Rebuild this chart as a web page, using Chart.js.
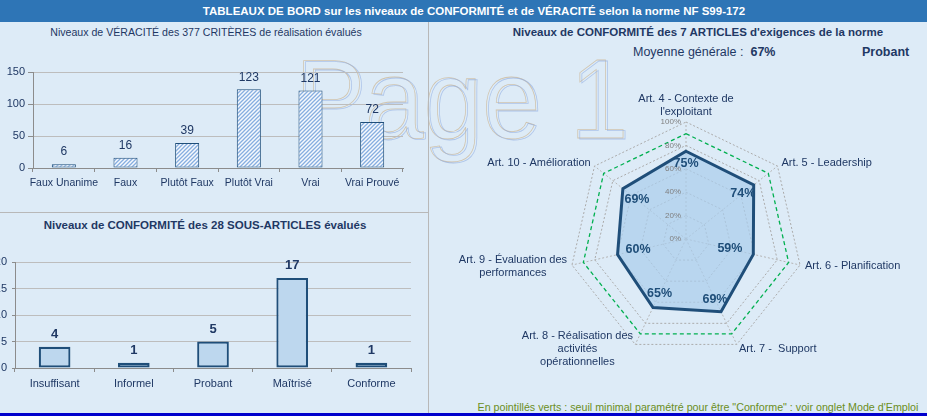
<!DOCTYPE html>
<html>
<head>
<meta charset="utf-8">
<script src="https://cdn.jsdelivr.net/npm/chart.js@4/dist/chart.umd.min.js"></script>
<style>
body { margin: 0; width: 927px; height: 416px; overflow: hidden; position: relative;
       background: #DDEBF7; font-family: "Liberation Sans", Arial, sans-serif; color: #1F3864; }
.abs { position: absolute; white-space: nowrap; }
.c { text-align: center; }
#topbar { left: 0; top: 0; width: 927px; height: 22px; background: #2E75B6; color: #fff;
          font-weight: bold; font-size: 11.5px; line-height: 22px; }
#topbar span { position: absolute; left: 74px; width: 800px; text-align: center; }
.wm { font-size: 113px; line-height: 113px; color: transparent; transform: scaleX(0.93); transform-origin: 0 0; }
canvas { position: absolute; }
</style>
</head>
<body>
<div class="abs" id="topbar"><span>TABLEAUX DE BORD sur les niveaux de CONFORMITÉ et de VÉRACITÉ selon la norme NF S99-172</span></div>

<div class="abs wm" style="left:295px;top:43px;-webkit-text-stroke:0.8px rgba(200,170,125,0.6);">Page 1</div>
<div class="abs wm" style="left:297px;top:44px;-webkit-text-stroke:0.8px rgba(140,170,225,0.6);">Page 1</div>

<div class="abs" style="left:428px;top:22px;width:1px;height:391px;background:#B8B8B8;"></div>
<div class="abs" style="left:0;top:212px;width:428px;height:1px;background:#B8B8B8;"></div>
<div class="abs" style="left:0;top:413px;width:927px;height:3px;background:#0000CC;"></div>

<div class="abs c" style="left:6px;top:26px;width:400px;font-size:10.6px;">Niveaux de VÉRACITÉ des 377 CRITÈRES de réalisation évalués</div>
<div class="abs c" style="left:5px;top:219px;width:400px;font-size:11.5px;font-weight:bold;">Niveaux de CONFORMITÉ des 28 SOUS-ARTICLES évalués</div>
<div class="abs c" style="left:498px;top:26px;width:400px;font-size:11.5px;font-weight:bold;">Niveaux de CONFORMITÉ des 7 ARTICLES d'exigences de la norme</div>
<div class="abs" style="left:633px;top:45px;font-size:12.5px;">Moyenne générale :&nbsp; <b>67%</b></div>
<div class="abs" style="left:862px;top:45px;font-size:12.5px;font-weight:bold;">Probant</div>
<div class="abs c" style="left:448px;top:401px;width:500px;font-size:10.7px;color:#6B8E23;">En pointillés verts : seuil minimal paramétré pour être "Conforme" : voir onglet Mode d'Emploi</div>

<canvas id="c1" style="left:0;top:23px;" width="428" height="189"></canvas>
<canvas id="c2" style="left:-40px;top:213px;" width="468" height="200"></canvas>
<canvas id="c3" style="left:430px;top:23px;" width="497" height="380"></canvas>

<script>
// Véracité des critères
var veraciteLabels = ['Faux Unanime', 'Faux', 'Plutôt Faux', 'Plutôt Vrai', 'Vrai', 'Vrai Prouvé'];
var veraciteValues = [6, 16, 39, 123, 121, 72];
var veraciteMax = 150;

// Conformité des sous-articles
var sousArticleLabels = ['Insuffisant', 'Informel', 'Probant', 'Maîtrisé', 'Conforme'];
var sousArticleValues = [4, 1, 5, 17, 1];
var sousArticleMax = 20;

// Conformité des articles (%)
var articleLabels = [
    ['Art. 4 - Contexte de', "l'exploitant"],
    ['Art. 5 - Leadership'],
    ['Art. 6 - Planification'],
    ['Art. 7 -  Support'],
    ['Art. 8 - Réalisation des', 'activités', 'opérationnelles'],
    ['Art. 9 - Évaluation des', 'performances'],
    ['Art. 10 - Amélioration']
];
var articleValues = [75, 74, 59, 69, 65, 60, 69];
var seuilValues = [90, 90, 90, 90, 90, 90, 90];

var navy = '#1F3864';
var fontFamily = '"Liberation Sans", Arial, sans-serif';

function hatch() {
    var p = document.createElement('canvas');
    p.width = 4; p.height = 4;
    var g = p.getContext('2d');
    g.fillStyle = '#F6F9FD';
    g.fillRect(0, 0, 4, 4);
    g.strokeStyle = '#86AEE0';
    g.lineWidth = 1.3;
    g.beginPath();
    g.moveTo(-1, 5); g.lineTo(5, -1);
    g.moveTo(-1, 1); g.lineTo(1, -1);
    g.moveTo(3, 5); g.lineTo(5, 3);
    g.stroke();
    return g.createPattern(p, 'repeat');
}

function barValues(font, gap) {
    return {
        id: 'barValues',
        afterDatasetsDraw: function(chart) {
            var ctx = chart.ctx;
            var values = chart.data.datasets[0].data;
            ctx.save();
            ctx.font = font;
            ctx.fillStyle = navy;
            ctx.textAlign = 'center';
            ctx.textBaseline = 'middle';
            chart.getDatasetMeta(0).data.forEach(function(bar, i) {
                ctx.fillText(values[i], bar.x, bar.y - gap);
            });
            ctx.restore();
        }
    };
}

function barChart(id, labels, values, max, step, o) {
    return new Chart(document.getElementById(id), {
        type: 'bar',
        data: {
            labels: labels,
            datasets: [{
                data: values,
                backgroundColor: o.fill,
                borderColor: '#1F4E79',
                borderWidth: o.border,
                borderSkipped: false,
                barPercentage: o.barPct,
                categoryPercentage: 1
            }]
        },
        options: {
            responsive: false,
            animation: false,
            layout: { padding: { top: o.top, right: o.right, left: 0, bottom: 0 } },
            plugins: { legend: { display: false }, tooltip: { enabled: false } },
            scales: {
                x: {
                    afterFit: function(s) { s.height = o.xh; },
                    grid: { drawOnChartArea: false, tickLength: 4, color: '#8C8C8C' },
                    border: { color: '#8C8C8C' },
                    ticks: { color: navy, padding: 5, maxRotation: 0, minRotation: 0, autoSkip: false,
                             font: { size: o.xfont, family: fontFamily } }
                },
                y: {
                    min: 0, max: max,
                    afterFit: function(s) { s.width = o.yw; },
                    grid: { color: '#BDBDBD', tickLength: o.tick, tickColor: '#8C8C8C' },
                    border: { color: '#8C8C8C' },
                    ticks: { stepSize: step, color: navy, padding: o.ypad, font: { size: 11, family: fontFamily } }
                }
            }
        },
        plugins: [barValues(o.vfont, o.gap)]
    });
}

barChart('c1', veraciteLabels, veraciteValues, veraciteMax, 50, {
    fill: hatch(), border: 1, barPct: 0.39, top: 49, right: 25, xh: 44, yw: 33,
    tick: 5, ypad: 3, xfont: 10.5, vfont: '12px ' + fontFamily, gap: 12
});

barChart('c2', sousArticleLabels, sousArticleValues, sousArticleMax, 5, {
    fill: '#BDD7EE', border: 2.2, barPct: 0.4, top: 49, right: 17, xh: 45, yw: 55,
    tick: 3, ypad: 5, xfont: 11, vfont: 'bold 13px ' + fontFamily, gap: 12.5
});

// offsets (px) pulling each value label toward the centre
var valueLabelInset = [12, 14, 24, 14, 15, 21, 18];

var radarText = {
    id: 'radarText',
    afterDatasetsDraw: function(chart) {
        var s = chart.scales.r, ctx = chart.ctx;
        ctx.save();
        // tick labels
        ctx.font = '8px ' + fontFamily;
        ctx.fillStyle = '#7F7F7F';
        ctx.textAlign = 'right';
        ctx.textBaseline = 'middle';
        s.ticks.forEach(function(t) {
            ctx.fillText(t.value + '%', s.xCenter - 5, s.yCenter - s.getDistanceFromCenterForValue(t.value));
        });
        // axis labels
        ctx.font = '11px ' + fontFamily;
        ctx.fillStyle = navy;
        ctx.textAlign = 'center';
        var lh = 13;
        chart.data.labels.forEach(function(lines, i) {
            var p = s.getPointPosition(i, s.drawingArea + 5);
            var w = 0;
            lines.forEach(function(l) { w = Math.max(w, ctx.measureText(l).width); });
            var cx, cy;
            if (Math.abs(p.x - s.xCenter) < 2) {
                cx = p.x; cy = p.y + 1 - lines.length * lh / 2;
            } else if (p.x > s.xCenter) {
                cx = p.x + w / 2; cy = p.y;
            } else {
                cx = p.x - w / 2; cy = p.y;
            }
            lines.forEach(function(l, k) {
                ctx.fillText(l, cx, cy + (k - (lines.length - 1) / 2) * lh);
            });
        });
        // value labels
        ctx.font = 'bold 12.5px ' + fontFamily;
        ctx.fillStyle = '#1F4E79';
        var values = chart.data.datasets[0].data;
        chart.getDatasetMeta(0).data.forEach(function(pt, i) {
            var dx = pt.x - s.xCenter, dy = pt.y - s.yCenter;
            var d = Math.sqrt(dx * dx + dy * dy);
            ctx.fillText(values[i] + '%', pt.x - dx / d * valueLabelInset[i], pt.y - dy / d * valueLabelInset[i]);
        });
        ctx.restore();
    }
};

new Chart(document.getElementById('c3'), {
    type: 'radar',
    data: {
        labels: articleLabels,
        datasets: [{
            data: articleValues,
            backgroundColor: 'rgba(170,205,235,0.72)',
            borderColor: '#1F4E79',
            borderWidth: 3,
            pointRadius: 0,
            fill: true
        }, {
            data: seuilValues,
            borderColor: '#00B050',
            borderWidth: 1.3,
            borderDash: [4, 3],
            pointRadius: 0,
            fill: false
        }]
    },
    options: {
        responsive: false,
        animation: false,
        layout: { padding: { left: 139, right: 124, top: 99, bottom: 47 } },
        plugins: { legend: { display: false }, tooltip: { enabled: false } },
        scales: {
            r: {
                min: 0, max: 100,
                ticks: { stepSize: 20, display: false },
                grid: { color: '#ABABAB', lineWidth: 1 },
                border: { dash: [2, 2] },
                angleLines: { color: '#B4B4B4', borderDash: [2, 2] },
                pointLabels: { display: false }
            }
        }
    },
    plugins: [radarText]
});
</script>
</body>
</html>
